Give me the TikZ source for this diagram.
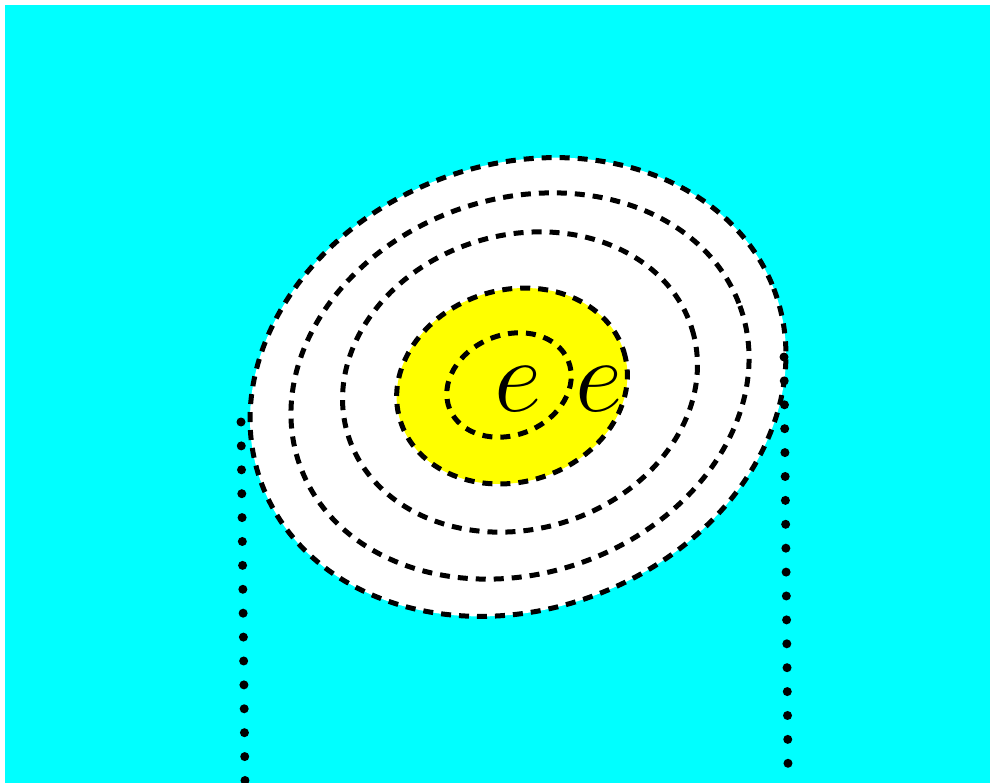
\RequirePackage{fix-cm}
\documentclass[tikz,border=0pt]{standalone}
\usepackage{tikz}

\definecolor{aqua}{RGB}{0,255,255}
\definecolor{yolk}{RGB}{255,255,0}
\tikzset{
  ring/.style={draw=black, line width=5pt, dash pattern=on 10pt off 8pt},
  dotline/.style={draw=black, line width=9pt, line cap=round, dash pattern=on 0pt off 23.9pt},
  letter/.style={font=\fontsize{104}{104}\selectfont, inner sep=0pt, anchor=base}
}

\begin{document}
\begin{tikzpicture}[x=1pt,y=-1pt]
\useasboundingbox (0,0) rectangle (990,783);
\fill[aqua] (5,5) rectangle (990,783);
% outer egg
\filldraw[ring, fill=white, rotate around={21:(518,387)}] (518,387) ellipse[x radius=274, y radius=222];
\draw[ring, rotate around={20:(520,386)}] (520,386) ellipse[x radius=234, y radius=187];
\draw[ring, rotate around={17:(520,382)}] (520,382) ellipse[x radius=180, y radius=147];
% yolk
\filldraw[ring, fill=yolk, rotate around={17:(512,386)}] (512,386) ellipse[x radius=117, y radius=96];
\draw[ring, rotate around={22:(509,385)}] (509,385) ellipse[x radius=64, y radius=50];
\node[letter] (e1) at (518,411) {$e$};
\node[letter] (e2) at (599,411) {$e$};
% dotted verticals
\coordinate (l1) at (241,422);
\coordinate (l2) at (245,781);
\coordinate (r1) at (784,357);
\coordinate (r2) at (788,765);
\draw[dotline] (l1) -- (l2);
\draw[dotline] (r1) -- (r2);
\end{tikzpicture}
\end{document}
